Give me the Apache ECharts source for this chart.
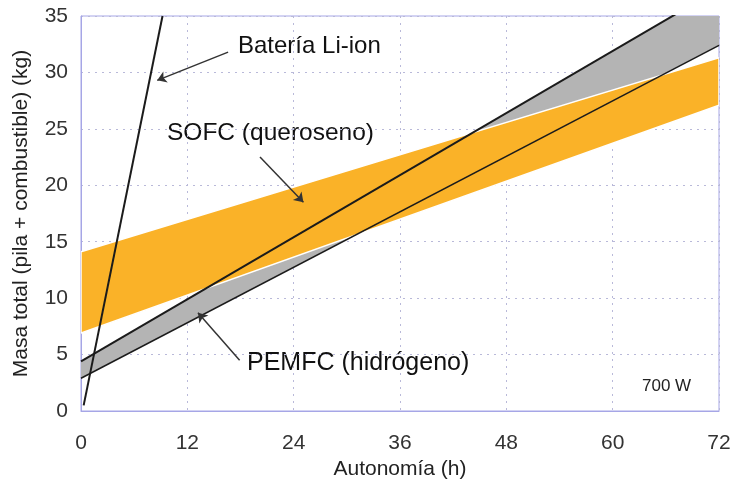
<!DOCTYPE html>
<html>
<head>
<meta charset="utf-8">
<script src="https://cdn.jsdelivr.net/npm/echarts@6/dist/echarts.min.js"></script>
<style>
  html, body { margin: 0; background: #fff; }
  #chart { width: 739px; height: 481px; }
</style>
</head>
<body>
<div id="chart"></div>
<script>
// datos: [autonomía (h), masa (kg)]
const bateria   = [[0.3, 0.5], [9.2, 35]];
const pemfcAlta = [[0, 4.4], [72, 37.4]];
const pemfcBaja = [[0, 2.9], [72, 32.4]];
const sofcAlta  = [[0, 14.1], [72, 31.3]];
const sofcBaja  = [[0, 6.9], [72, 27.1]];

// flechas de las etiquetas: [origen, punta]
const flechas = [
  [[16.6, 31.8], [8.6, 29.3]],
  [[20.2, 22.5], [25.1, 18.5]],
  [[17.9, 4.5], [13.2, 8.7]]
];

const font = '"Liberation Sans", Arial, sans-serif';

function banda(baja, alta, color, borde) {
  return {
    type: 'custom',
    clip: true,
    data: [[0, 0]],
    renderItem: function (params, api) {
      const pts = baja.map(p => api.coord(p))
        .concat(alta.slice().reverse().map(p => api.coord(p)));
      return {
        type: 'polygon',
        shape: { points: pts },
        style: { fill: color, stroke: borde, lineWidth: 1.5 }
      };
    },
    silent: true
  };
}

function linea(data, width) {
  return {
    type: 'line',
    data: data,
    symbol: 'none',
    silent: true,
    lineStyle: { color: '#1b1b1b', width: width }
  };
}

const chart = echarts.init(document.getElementById('chart'));
chart.setOption({
  animation: false,
  grid: {
    left: 81, right: 20, top: 16, bottom: 70,
    outerBoundsMode: 'none', containLabel: false,
    show: true, borderColor: '#a6a6e6', borderWidth: 1
  },
  xAxis: {
    type: 'value', min: 0, max: 72, interval: 12,
    name: 'Autonomía (h)', nameLocation: 'middle', nameGap: 46,
    nameTextStyle: { fontFamily: font, fontSize: 21, color: '#222' },
    axisLine: { lineStyle: { color: '#a6a6e6' } },
    axisTick: { show: false },
    axisLabel: { fontFamily: font, fontSize: 21, color: '#333', margin: 22 },
    splitLine: { lineStyle: { color: '#b9b9d9', type: [2, 5] } }
  },
  yAxis: {
    type: 'value', min: 0, max: 35, interval: 5,
    name: 'Masa total (pila + combustible) (kg)', nameLocation: 'middle', nameGap: 49,
    nameTextStyle: { fontFamily: font, fontSize: 21, color: '#222' },
    axisLine: { show: true, lineStyle: { color: '#a6a6e6' } },
    axisTick: { show: false },
    axisLabel: { fontFamily: font, fontSize: 21, color: '#333', margin: 13 },
    splitLine: { lineStyle: { color: '#b9b9d9', type: [2, 5] } }
  },
  series: [
    banda(pemfcBaja, pemfcAlta, '#b4b4b4', 'none'),
    banda(sofcBaja, sofcAlta, '#fab228', '#ffffff'),
    linea(pemfcAlta, 2),
    linea(pemfcBaja, 1.5),
    linea(bateria, 2),
    {
      type: 'line',
      data: [],
      silent: true,
      markLine: {
        silent: true,
        symbol: ['none', 'arrow'],
        symbolSize: 9,
        label: { show: false },
        lineStyle: { color: '#333', width: 1.5, type: 'solid' },
        data: flechas.map(f => [{ coord: f[0] }, { coord: f[1] }])
      }
    }
  ],
  graphic: [
    { type: 'text', left: 238, top: 34, style: { text: 'Batería Li-ion', font: '24px ' + font, fill: '#111' } },
    { type: 'text', left: 167, top: 121, style: { text: 'SOFC (queroseno)', font: '24.5px ' + font, fill: '#111' } },
    { type: 'text', left: 247, top: 351, style: { text: 'PEMFC (hidrógeno)', font: '25px ' + font, fill: '#111' } },
    { type: 'text', left: 638, top: 376, style: { text: '700 W', font: '17px ' + font, fill: '#222', backgroundColor: '#fff', padding: [2, 4] } }
  ]
});
</script>
</body>
</html>
